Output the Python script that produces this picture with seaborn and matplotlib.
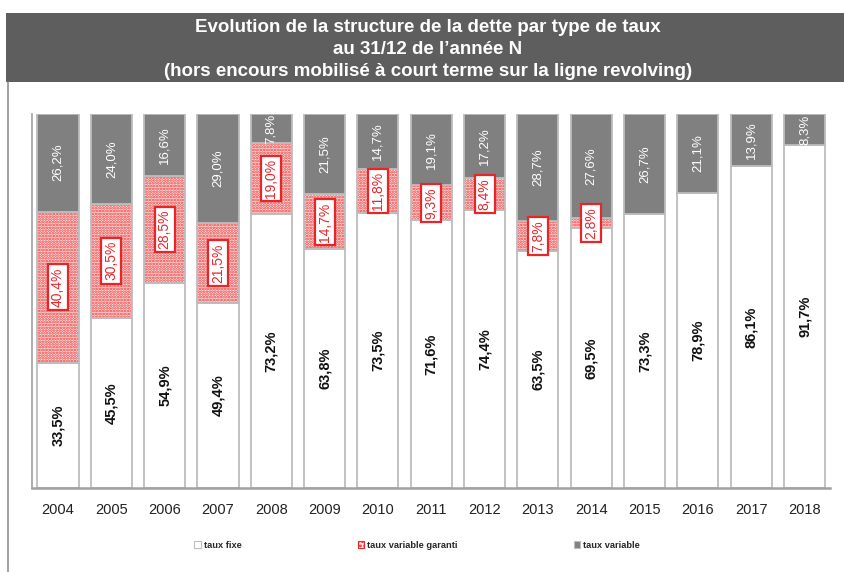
import matplotlib
matplotlib.use('Agg')
import matplotlib.pyplot as plt
import seaborn as sns
import numpy as np
from matplotlib.patches import Rectangle, Patch
from matplotlib.lines import Line2D

years = [str(y) for y in range(2004, 2019)]
taux_fixe = [33.5, 45.5, 54.9, 49.4, 73.2, 63.8, 73.5, 71.6, 74.4, 63.5, 69.5, 73.3, 78.9, 86.1, 91.7]
taux_variable_garanti = [40.4, 30.5, 28.5, 21.5, 19.0, 14.7, 11.8, 9.3, 8.4, 7.8, 2.8, 0, 0, 0, 0]
taux_variable = [26.2, 24.0, 16.6, 29.0, 7.8, 21.5, 14.7, 19.1, 17.2, 28.7, 27.6, 26.7, 21.1, 13.9, 8.3]
title_lines = ["Evolution de la structure de la dette par type de taux",
               "au 31/12 de l\u2019ann\u00e9e N",
               "(hors encours mobilis\u00e9 \u00e0 court terme sur la ligne revolving)"]
legend_labels = ["taux fixe", "taux variable garanti", "taux variable"]

sns.set_style("white")
plt.rcParams['font.family'] = ['Liberation Sans', 'DejaVu Sans']
plt.rcParams['hatch.linewidth'] = 1.3

W, H = 845, 572
fig = plt.figure(figsize=(W / 100, H / 100), dpi=100)
ax = fig.add_axes([32 / W, 1 - 488 / H, (830 - 32) / W, (488 - 114) / H])

EDGE = '#bdbdbd'
GRAY = '#808080'
PINK = '#fbe0e0'
RED = '#e8262a'
BAR_W = 0.77

fixe = np.array(taux_fixe)
gar = np.array(taux_variable_garanti)
var = np.array(taux_variable)

# taux fixe
sns.barplot(x=years, y=taux_fixe, order=years, color='white', edgecolor=EDGE,
            linewidth=1.3, width=BAR_W, errorbar=None, ax=ax)
# taux variable garanti (hatched)
sns.barplot(x=years, y=taux_variable_garanti, order=years, bottom=fixe,
            color=PINK, edgecolor='#f03c3c', hatch='......', linewidth=0,
            width=BAR_W, errorbar=None, ax=ax)
sns.barplot(x=years, y=taux_variable_garanti, order=years, bottom=fixe,
            fill=False, color=EDGE, linewidth=1.3, width=BAR_W, errorbar=None, ax=ax)
# taux variable
sns.barplot(x=years, y=taux_variable, order=years, bottom=fixe + gar,
            color=GRAY, edgecolor=EDGE, linewidth=1.3, width=BAR_W, errorbar=None, ax=ax)

def fmt(v):
    return f"{v:.1f}%".replace('.', ',')

for i in range(len(years)):
    ax.text(i, fixe[i] / 2, fmt(fixe[i]), rotation=90, ha='center', va='center',
            fontsize=10.5, color='#111111', fontweight='bold')
    if gar[i] > 0:
        ax.text(i, fixe[i] + gar[i] / 2, fmt(gar[i]), rotation=90, ha='center', va='center',
                fontsize=10, color=RED,
                bbox=dict(boxstyle='square,pad=0.22', facecolor='white', edgecolor=RED, linewidth=1.6))
    ax.text(i, fixe[i] + gar[i] + var[i] / 2, fmt(var[i]), rotation=90, ha='center', va='center',
            fontsize=9.5, color='white')

ax.set_xlim(-0.488, 14.478)
ax.set_ylim(0, 100)
ax.set_yticks([])
ax.set_xlabel('')
ax.set_ylabel('')
ax.tick_params(axis='x', length=0, labelsize=10.5, labelcolor='#222222', pad=11)
for s in ['top', 'right']:
    ax.spines[s].set_visible(False)
ax.spines['left'].set_color('#a0a0a0')
ax.spines['left'].set_linewidth(1.2)
ax.spines['bottom'].set_color('#a0a0a0')
ax.spines['bottom'].set_linewidth(1.8)

# title banner
fig.patches.append(Rectangle((6 / W, 1 - 82 / H), (W - 6) / W, 69 / H, transform=fig.transFigure,
                             facecolor='#5e5e5e', edgecolor='none', zorder=0))
for k, (line, yp) in enumerate(zip(title_lines, [27, 49, 72])):
    fig.text(428 / W, 1 - yp / H, line, ha='center', va='center', color='white',
             fontsize=13.5, fontweight='bold')

fig.add_artist(Line2D([8 / W, 8 / W], [0, 1 - 82 / H], transform=fig.transFigure,
                      color='#909090', linewidth=1.2))

handles = [Patch(facecolor='white', edgecolor=EDGE, linewidth=0.8),
           Patch(facecolor=PINK, edgecolor=RED, hatch='....', linewidth=0.8),
           Patch(facecolor=GRAY, edgecolor=EDGE, linewidth=0.8)]
fig.legend(handles, legend_labels, loc='center', bbox_to_anchor=(417 / W, 1 - 545 / H),
           ncol=3, frameon=False, prop={'size': 6.7, 'weight': 'bold'},
           handlelength=0.7, handleheight=0.7, handletextpad=0.3, columnspacing=12.5)

fig.savefig('out.png', dpi=100)
